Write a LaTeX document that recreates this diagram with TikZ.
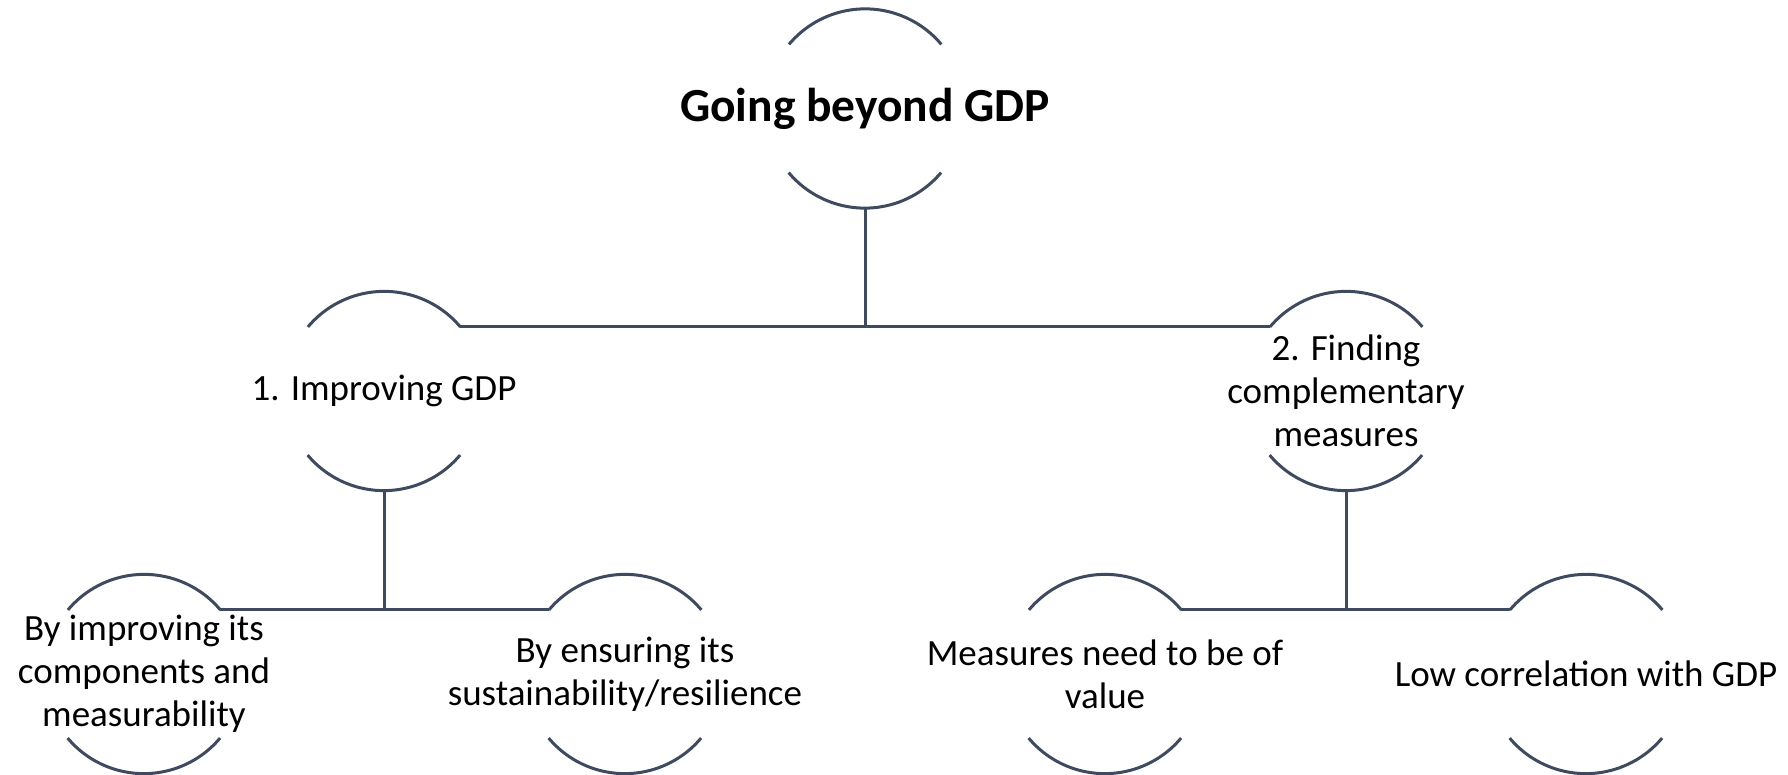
\documentclass[tikz,border=0pt]{standalone}
\usepackage{fontspec}
\setmainfont{Carlito}
\definecolor{ringcol}{HTML}{3E4A5E}
\begin{document}
\begin{tikzpicture}[
  ring/.style={circle, minimum size=199pt, inner sep=0pt},
  arcline/.style={draw=ringcol, line width=3pt},
  link/.style={draw=ringcol, line width=3pt},
  txt/.style={align=center, inner sep=0pt, font=\fontsize{37}{43}\selectfont},
  title/.style={align=center, inner sep=0pt, font=\fontsize{47.5}{55}\selectfont\bfseries}
]
\useasboundingbox (0pt,0pt) rectangle (1788pt,-775pt);

% ring positions
\node[ring] (top) at (865pt,-108.5pt) {};
\node[ring] (imp) at (384pt,-391pt) {};
\node[ring] (fin) at (1346pt,-391pt) {};
\node[ring] (comp) at (144pt,-674pt) {};
\node[ring] (sust) at (625pt,-674pt) {};
\node[ring] (val) at (1105pt,-674pt) {};
\node[ring] (low) at (1586pt,-674pt) {};

% upper and lower arcs of every ring
\foreach \n in {top,imp,fin,comp,sust,val,low}{
  \draw[arcline] (\n.40) arc[start angle=40, end angle=140, radius=99.5pt];
  \draw[arcline] (\n.220) arc[start angle=220, end angle=320, radius=99.5pt];
}

% labels
\node[title] (top-t) at (top) {Going beyond GDP};
\node[txt] (imp-t) at (imp) {1. Improving GDP};
\node[txt] (fin-t) at (fin) {2. Finding\\complementary\\measures};
\node[txt] (comp-t) at (comp) {By improving its\\components and\\measurability};
\node[txt] (sust-t) at (sust) {By ensuring its\\sustainability/resilience};
\node[txt] (val-t) at (val) {Measures need to be of\\value};
\node[txt] (low-t) at (low) {Low correlation with GDP};

% tree connectors
\draw[link] (imp.40) -- (fin.140);
\draw[link] (top.south) -- (top.south |- imp.40);
\draw[link] (comp.40) -- (sust.140);
\draw[link] (imp.south) -- (imp.south |- comp.40);
\draw[link] (val.40) -- (low.140);
\draw[link] (fin.south) -- (fin.south |- val.40);
\end{tikzpicture}
\end{document}
